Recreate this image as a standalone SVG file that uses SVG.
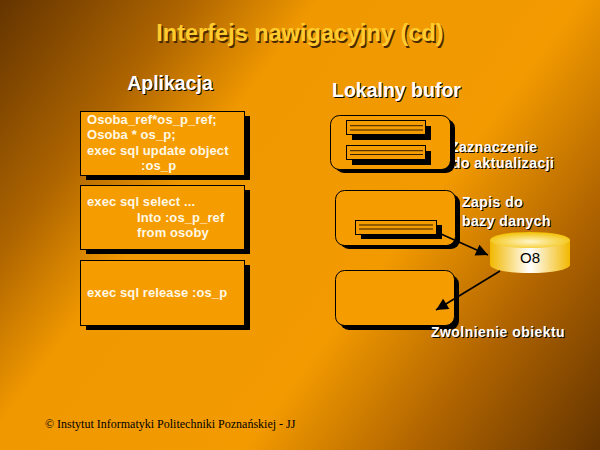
<svg xmlns="http://www.w3.org/2000/svg" width="600" height="450" viewBox="0 0 600 450">
<defs>
<linearGradient id="bg" gradientUnits="userSpaceOnUse" x1="0" y1="0" x2="600" y2="450">
<stop offset="0" stop-color="#643400"/>
<stop offset="0.2" stop-color="#ad6400"/>
<stop offset="0.34" stop-color="#f09800"/>
<stop offset="0.62" stop-color="#f29a00"/>
<stop offset="0.8" stop-color="#b06400"/>
<stop offset="1" stop-color="#643400"/>
</linearGradient>
<linearGradient id="cylBody" x1="0" y1="0" x2="1" y2="0">
<stop offset="0" stop-color="#f2b800"/>
<stop offset="0.5" stop-color="#ffffff"/>
<stop offset="1" stop-color="#f2b800"/>
</linearGradient>
<radialGradient id="cylTop" cx="0.5" cy="0.6" r="0.6">
<stop offset="0" stop-color="#fff6c8"/>
<stop offset="1" stop-color="#f2c000"/>
</radialGradient>
<marker id="arrBig" viewBox="0 0 10 10" refX="10" refY="5" markerWidth="14" markerHeight="12" markerUnits="userSpaceOnUse" orient="auto">
<path d="M0,0 L10,5 L0,10 z" fill="#000"/>
</marker>
</defs>
<style>
.box{fill:#f59c00;stroke:#000;stroke-width:1}
.shadow{fill:#000}
.code{font-family:"Liberation Sans",Arial,sans-serif;font-size:13px;font-weight:bold;fill:#fff8e6;letter-spacing:0.1px}
.head{font-family:"Liberation Sans",Arial,sans-serif;font-weight:bold;fill:#fff}
.lbl{font-family:"Liberation Sans",Arial,sans-serif;font-size:14px;font-weight:bold;fill:#fff;letter-spacing:0.45px}
.sh{fill:#000}
.rec{fill:#f59c00;stroke:#000;stroke-width:1}
.recline{stroke:#000;stroke-width:0.8}
.conn{stroke:#000;stroke-width:1.6;fill:none}
</style>
<rect x="0" y="0" width="600" height="450" fill="url(#bg)"/>

<g id="title">
<text x="301.5" y="42.5" text-anchor="middle" font-family="Liberation Sans, Arial, sans-serif" font-size="23.5" font-weight="bold" fill="#4a2800">Interfejs nawigacyjny (cd)</text>
<text x="300" y="41" text-anchor="middle" font-family="Liberation Sans, Arial, sans-serif" font-size="23.5" font-weight="bold" fill="#ffcc2e">Interfejs nawigacyjny (cd)</text>
</g>

<g id="heading-aplikacja">
<text class="head sh" x="171" y="91" text-anchor="middle" font-size="19.5">Aplikacja</text>
<text class="head" x="170" y="90" text-anchor="middle" font-size="19.5">Aplikacja</text>
</g>
<g id="heading-bufor">
<text class="head sh" x="333" y="98" font-size="19.5">Lokalny bufor</text>
<text class="head" x="332" y="97" font-size="19.5">Lokalny bufor</text>
</g>

<g id="app-box1">
<rect class="shadow" x="86" y="116" width="164" height="64"/>
<rect class="box" x="80.5" y="111.5" width="164" height="64"/>
<text class="code" x="87" y="124">Osoba_ref*os_p_ref;</text>
<text class="code" x="87" y="139">Osoba * os_p;</text>
<text class="code" x="87" y="155">exec sql update object</text>
<text class="code" x="141" y="170">:os_p</text>
</g>

<g id="app-box2">
<rect class="shadow" x="86" y="190" width="164" height="64"/>
<rect class="box" x="80.5" y="185.5" width="164" height="64"/>
<text class="code" x="87" y="206">exec sql select ...</text>
<text class="code" x="137" y="222">Into :os_p_ref</text>
<text class="code" x="137" y="237">from osoby</text>
</g>

<g id="app-box3">
<rect class="shadow" x="86" y="265" width="164" height="65"/>
<rect class="box" x="80.5" y="260.5" width="164" height="65"/>
<text class="code" x="87" y="297">exec sql release :os_p</text>
</g>

<g id="label-zaznaczenie">
<text class="lbl sh" x="451" y="153">Zaznaczenie</text>
<text class="lbl" x="450" y="152">Zaznaczenie</text>
<text class="lbl sh" x="453" y="169">do aktualizacji</text>
<text class="lbl" x="452" y="168">do aktualizacji</text>
</g>

<g id="buffer-box1">
<rect class="shadow" x="335" y="119" width="120" height="54" rx="9"/>
<rect class="box" x="330.5" y="115.5" width="120" height="54" rx="9"/>
<rect class="shadow" x="352" y="126" width="79" height="14"/>
<rect class="rec" x="346.5" y="120.5" width="79" height="14"/>
<line class="recline" x1="350" y1="125.7" x2="423" y2="125.7"/>
<line class="recline" x1="350" y1="130" x2="423" y2="130"/>
<rect class="shadow" x="352" y="151" width="79" height="14"/>
<rect class="rec" x="346.5" y="145.5" width="79" height="14"/>
<line class="recline" x1="350" y1="150.7" x2="423" y2="150.7"/>
<line class="recline" x1="350" y1="154.5" x2="423" y2="154.5"/>
</g>

<g id="buffer-box2">
<rect class="shadow" x="340" y="194" width="120" height="55" rx="9"/>
<rect class="box" x="335.5" y="190.5" width="120" height="55" rx="9"/>
<rect class="shadow" x="361" y="225" width="81" height="14"/>
<rect class="rec" x="355.5" y="220.5" width="81" height="14"/>
<line class="recline" x1="359" y1="225" x2="433" y2="225"/>
<line class="recline" x1="359" y1="229" x2="433" y2="229"/>
</g>

<g id="label-zapis">
<text class="lbl sh" x="463" y="208">Zapis do</text>
<text class="lbl" x="462" y="207">Zapis do</text>
<text class="lbl sh" x="463" y="227">bazy danych</text>
<text class="lbl" x="462" y="226">bazy danych</text>
</g>

<g id="buffer-box3">
<rect class="shadow" x="340" y="275" width="119" height="55" rx="9"/>
<rect class="box" x="335.5" y="270.5" width="119" height="55" rx="9"/>
</g>

<g id="label-zwolnienie">
<text class="lbl sh" x="432" y="338">Zwolnienie obiektu</text>
<text class="lbl" x="431" y="337">Zwolnienie obiektu</text>
</g>

<g id="db-o8">
<path d="M490,240 V265 A40,8 0 0 0 570,265 V240 Z" fill="url(#cylBody)"/>
<ellipse cx="530" cy="240" rx="40" ry="8" fill="url(#cylTop)"/>
<text x="530" y="263" text-anchor="middle" font-family="Liberation Sans, Arial, sans-serif" font-size="15" fill="#000">O8</text>
</g>

<g id="connectors">
<line class="conn" x1="441" y1="234" x2="488" y2="255" marker-end="url(#arrBig)"/>
<line class="conn" x1="500" y1="271" x2="436" y2="310" marker-end="url(#arrBig)"/>
</g>

<g id="footer">
<text x="45" y="428" font-family="Liberation Serif, 'Times New Roman', serif" font-size="12" fill="#000">©  Instytut Informatyki Politechniki Poznańskiej - JJ</text>
</g>
</svg>
